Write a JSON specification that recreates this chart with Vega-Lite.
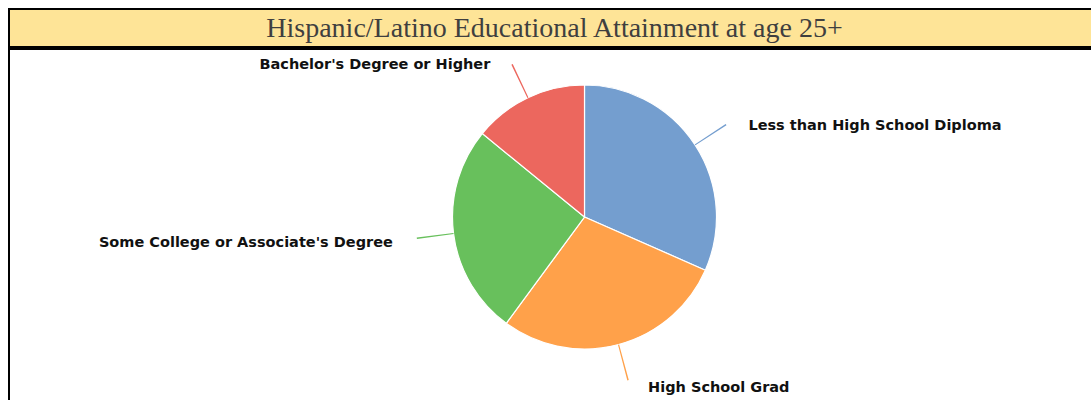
{
  "$schema": "https://vega.github.io/schema/vega-lite/v6.json",
  "padding": {"left": 8, "top": 8, "right": 0, "bottom": 0},
  "background": "white",
  "spacing": 0,
  "config": {"view": {"stroke": null}},
  "vconcat": [
    {
      "width": 1083,
      "height": 38,
      "view": {"fill": "#FEE497", "stroke": "#000000", "strokeWidth": 2},
      "data": {"values": [{"title": "Hispanic/Latino Educational Attainment at age 25+"}]},
      "mark": {"type": "text", "font": "Liberation Serif", "fontSize": 28, "color": "#3F3F3F", "align": "center", "baseline": "middle", "dx": 4, "dy": 1},
      "encoding": {"text": {"field": "title", "type": "nominal"}}
    },
    {
      "width": 1083,
      "height": 354,
      "view": {"stroke": "#000000", "strokeWidth": 2},
      "data": {"values": [
        {"category": "Less than High School Diploma", "value": 31.6},
        {"category": "High School Grad", "value": 28.5},
        {"category": "Some College or Associate's Degree", "value": 25.8},
        {"category": "Bachelor's Degree or Higher", "value": 14.1}
      ]},
      "transform": [
        {"stack": "value", "groupby": [], "sort": [{"field": "value", "order": "descending"}], "as": ["s0", "s1"]},
        {"calculate": "(datum.s0 + datum.s1) / 2", "as": "mid"},
        {"calculate": "datum.mid - 0.07", "as": "c0"},
        {"calculate": "datum.mid + 0.07", "as": "c1"}
      ],
      "encoding": {
        "color": {
          "field": "category",
          "type": "nominal",
          "legend": null,
          "scale": {
            "domain": ["Less than High School Diploma", "High School Grad", "Some College or Associate's Degree", "Bachelor's Degree or Higher"],
            "range": ["#749ECF", "#FFA14A", "#68C05C", "#EC675E"]
          }
        }
      },
      "layer": [
        {
          "mark": {"type": "arc", "outerRadius": 132, "stroke": "#FFFFFF", "strokeWidth": 1.2, "xOffset": 34, "yOffset": -9},
          "encoding": {
            "theta": {"field": "s0", "type": "quantitative", "scale": {"domain": [0, 100]}},
            "theta2": {"field": "s1"}
          }
        },
        {
          "mark": {"type": "arc", "innerRadius": 132, "outerRadius": 169, "xOffset": 34, "yOffset": -9},
          "encoding": {
            "theta": {"field": "c0", "type": "quantitative"},
            "theta2": {"field": "c1"}
          }
        },
        {
          "transform": [{"filter": "datum.mid < 50"}],
          "mark": {"type": "text", "radius": 173, "align": "left", "baseline": "middle", "dx": 19, "dy": 4, "font": "DejaVu Sans", "fontWeight": "bold", "fontSize": 14.5, "xOffset": 34, "yOffset": -9},
          "encoding": {
            "theta": {"field": "mid", "type": "quantitative"},
            "text": {"field": "category", "type": "nominal"},
            "color": {"value": "#111111"}
          }
        },
        {
          "transform": [{"filter": "datum.mid >= 50"}],
          "mark": {"type": "text", "radius": 173, "align": "right", "baseline": "middle", "dx": -20, "dy": 4, "font": "DejaVu Sans", "fontWeight": "bold", "fontSize": 14.5, "xOffset": 34, "yOffset": -9},
          "encoding": {
            "theta": {"field": "mid", "type": "quantitative"},
            "text": {"field": "category", "type": "nominal"},
            "color": {"value": "#111111"}
          }
        }
      ]
    }
  ]
}
